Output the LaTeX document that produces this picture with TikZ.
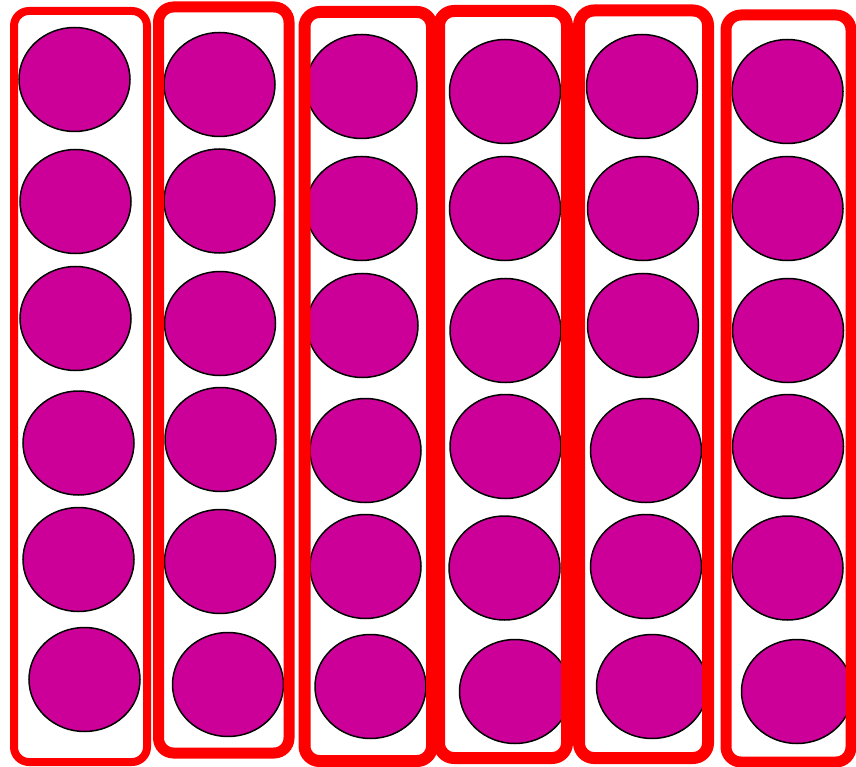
\documentclass[tikz,border=0pt]{standalone}
\definecolor{dotfill}{RGB}{204,0,153}
\definecolor{framered}{RGB}{255,0,0}
\tikzset{
  dot/.style={fill=dotfill, draw=black, line width=1.5pt},
  frame/.style={draw=framered, rounded corners=15pt}
}
\begin{document}
\begin{tikzpicture}[x=1pt,y=-1pt]
\useasboundingbox[fill=white] (0,0) rectangle (856,767);
% dots
\foreach \cx/\cy in {
  74.5/79.5, 75.5/201.5, 75.5/318.5, 78.5/443, 78.5/559.5, 84.5/679.5,
  219.5/84.5, 219.5/201, 220/323.5, 220.5/439.5, 220/561.5, 228/684.5,
  361.5/86.5, 361.5/208.5, 362.5/325.5, 365.5/450.5, 365.5/566.5, 370.5/686.5,
  505/91.5, 505/208.5, 505.5/330.5, 505.5/446.5, 504.5/568, 515/691.5,
  642/86.5, 643/208.5, 643/325.5, 646/450.5, 646/566.5, 652/686.5,
  787.5/91.5, 787.5/208.5, 788/330.5, 788/446.5, 787.5/568, 797/691.5}
  \draw[dot] (\cx,\cy) ellipse [x radius=55.5, y radius=52];
% frames
\draw[frame, line width=8pt]  (14,11) rectangle (147,762);
\draw[frame, line width=11pt] (158.5,7) rectangle (289,753);
\draw[frame, line width=12pt] (304.5,12) rectangle (432,761);
\draw[frame, line width=12pt] (439,11) rectangle (567,758);
\draw[frame, line width=12pt] (579,10.5) rectangle (708,758);
\draw[frame, line width=11pt] (726,15) rectangle (851,762);
\end{tikzpicture}
\end{document}
